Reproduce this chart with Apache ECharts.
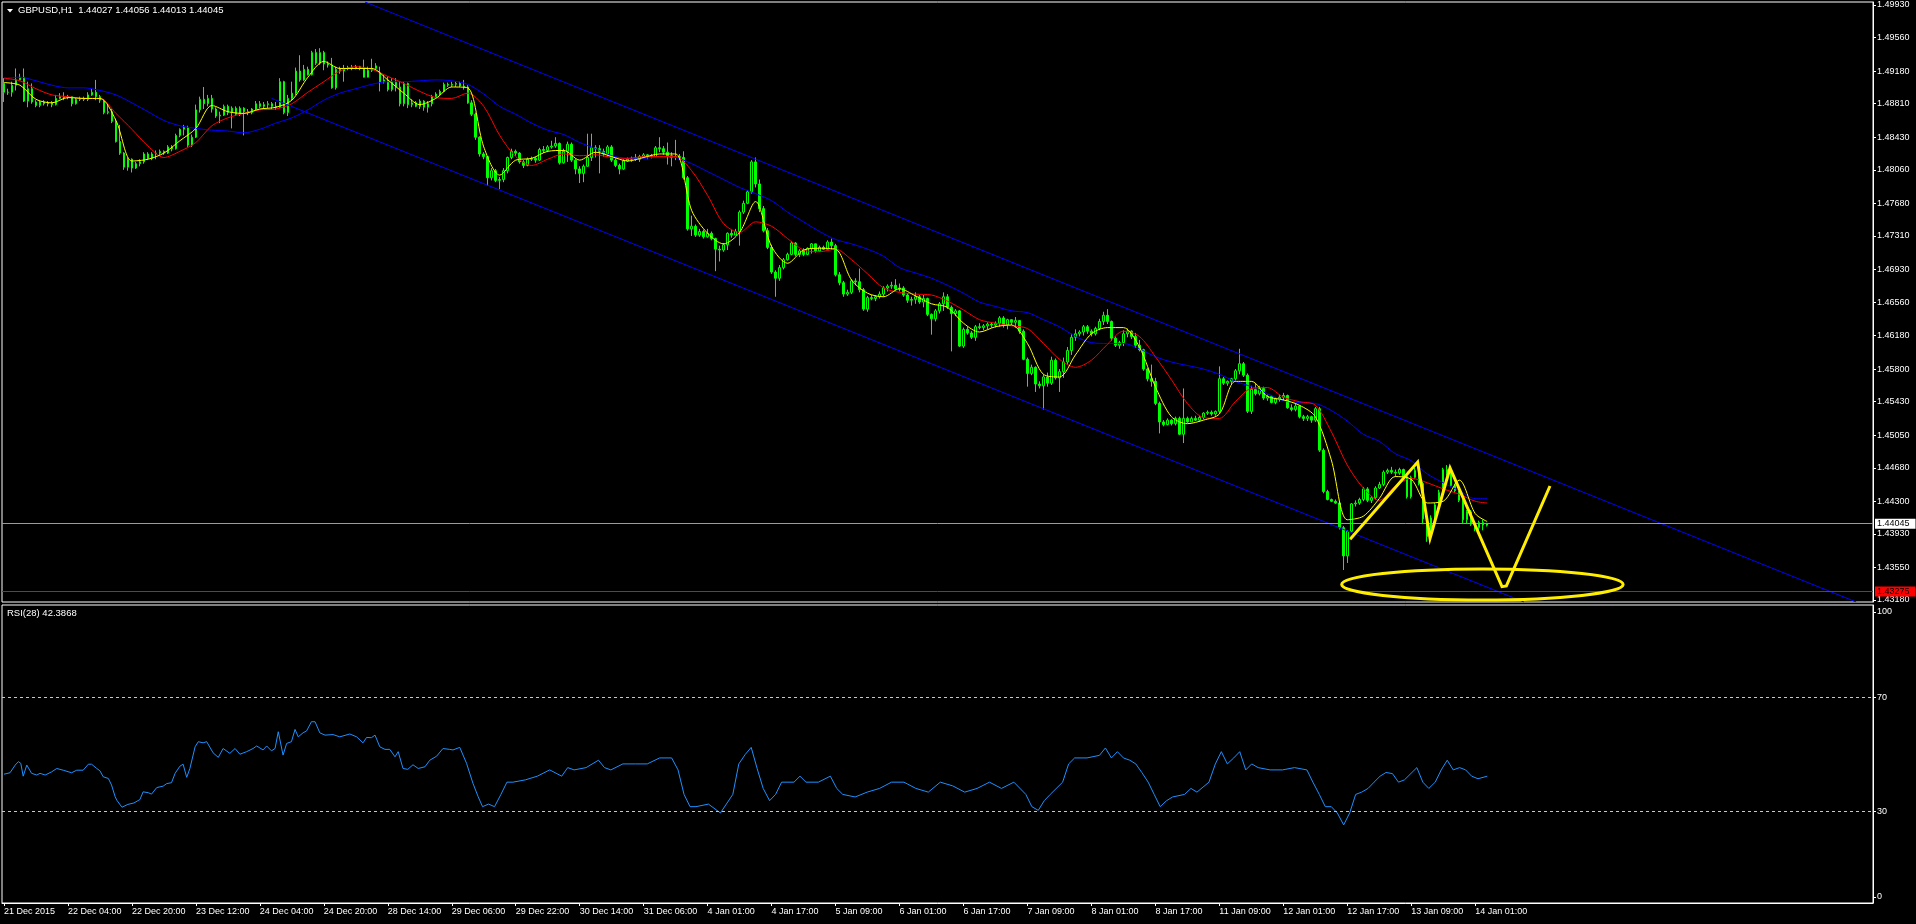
<!DOCTYPE html>
<html><head><meta charset="utf-8">
<script src="https://cdn.jsdelivr.net/npm/echarts@6/dist/echarts.min.js"></script>
<style>html,body{margin:0;padding:0;background:#000;overflow:hidden}#c{width:1916px;height:924px}</style>
</head><body><div id="c"></div>
<script>
// ---------- DATA ----------
const symbolName = 'GBPUSD,H1';
const rsiName = 'RSI(28)';

const opens = [
1.4904,1.4894,1.4894,1.4902,1.4908,1.4911,1.4884,1.4898,1.4883,1.4879,
1.4883,1.4881,1.4882,1.4880,1.4887,1.4889,1.4888,1.4889,1.4881,1.4886,
1.4887,1.4886,1.4891,1.4894,1.4889,1.4885,1.4871,1.4872,1.4861,1.4838,
1.4825,1.4809,1.4818,1.4808,1.4813,1.4815,1.4824,1.4819,1.4824,1.4825,
1.4827,1.4825,1.4832,1.4830,1.4845,1.4852,1.4854,1.4834,1.4843,1.4874,
1.4886,1.4881,1.4887,1.4875,1.4867,1.4868,1.4878,1.4871,1.4876,1.4869,
1.4876,1.4872,1.4871,1.4875,1.4881,1.4878,1.4880,1.4881,1.4878,1.4877,
1.4906,1.4871,1.4887,1.4893,1.4918,1.4908,1.4920,1.4914,1.4939,1.4927,
1.4939,1.4926,1.4925,1.4899,1.4920,1.4918,1.4921,1.4922,1.4921,1.4923,
1.4921,1.4911,1.4919,1.4921,1.4916,1.4906,1.4908,1.4897,1.4906,1.4900,
1.4881,1.4904,1.4880,1.4882,1.4878,1.4884,1.4877,1.4881,1.4889,1.4892,
1.4895,1.4903,1.4902,1.4903,1.4904,1.4901,1.4900,1.4882,1.4869,1.4843,
1.4824,1.4821,1.4797,1.4805,1.4794,1.4795,1.4805,1.4820,1.4827,1.4825,
1.4815,1.4811,1.4818,1.4819,1.4817,1.4829,1.4828,1.4832,1.4833,1.4836,
1.4814,1.4827,1.4835,1.4817,1.4807,1.4802,1.4810,1.4820,1.4831,1.4830,
1.4827,1.4824,1.4832,1.4817,1.4811,1.4807,1.4816,1.4818,1.4819,1.4818,
1.4821,1.4823,1.4822,1.4821,1.4831,1.4830,1.4826,1.4822,1.4820,1.4821,
1.4820,1.4797,1.4739,1.4742,1.4732,1.4736,1.4730,1.4734,1.4728,1.4716,
1.4715,1.4721,1.4734,1.4732,1.4736,1.4758,1.4768,1.4781,1.4815,1.4790,
1.4762,1.4737,1.4718,1.4690,1.4683,1.4695,1.4704,1.4710,1.4723,1.4710,
1.4714,1.4710,1.4717,1.4722,1.4714,1.4718,1.4716,1.4724,1.4720,1.4687,
1.4678,1.4665,1.4667,1.4680,1.4679,1.4670,1.4648,1.4661,1.4660,1.4662,
1.4665,1.4672,1.4674,1.4675,1.4671,1.4672,1.4664,1.4658,1.4659,1.4662,
1.4656,1.4660,1.4642,1.4637,1.4646,1.4654,1.4662,1.4650,1.4643,1.4646,
1.4606,1.4625,1.4621,1.4616,1.4628,1.4627,1.4629,1.4631,1.4630,1.4632,
1.4638,1.4630,1.4636,1.4633,1.4635,1.4623,1.4591,1.4575,1.4582,1.4563,
1.4561,1.4571,1.4564,1.4590,1.4570,1.4577,1.4588,1.4601,1.4616,1.4620,
1.4622,1.4628,1.4623,1.4620,1.4626,1.4634,1.4641,1.4634,1.4615,1.4607,
1.4610,1.4620,1.4623,1.4617,1.4607,1.4602,1.4580,1.4569,1.4566,1.4541,
1.4520,1.4517,1.4522,1.4518,1.4524,1.4506,1.4524,1.4520,1.4524,1.4522,
1.4525,1.4530,1.4531,1.4529,1.4532,1.4569,1.4564,1.4566,1.4569,1.4578,
1.4586,1.4573,1.4532,1.4557,1.4552,1.4558,1.4547,1.4549,1.4542,1.4546,
1.4548,1.4550,1.4536,1.4534,1.4538,1.4526,1.4524,1.4526,1.4522,1.4535,
1.4488,1.4441,1.4432,1.4430,1.4428,1.4400,1.4368,1.4396,1.4427,1.4428,
1.4432,1.4444,1.4431,1.4434,1.4445,1.4449,1.4463,1.4465,1.4463,1.4462,
1.4466,1.4458,1.4435,1.4457,1.4465,1.4450,1.4410,1.4390,1.4411,1.4426,
1.4440,1.4466,1.4461,1.4448,1.4442,1.4431,1.4409,1.4418,1.4404,1.4400,
1.4406,1.44027];

const highs = [
1.4910,1.4898,1.4906,1.4921,1.4915,1.4921,1.4906,1.4904,1.4885,1.4885,
1.4885,1.4884,1.4884,1.4891,1.4893,1.4894,1.4891,1.4889,1.4888,1.4889,
1.4889,1.4894,1.4898,1.4908,1.4891,1.4886,1.4881,1.4875,1.4864,1.4857,
1.4826,1.4820,1.4819,1.4815,1.4818,1.4826,1.4826,1.4826,1.4828,1.4829,
1.4828,1.4834,1.4834,1.4847,1.4853,1.4857,1.4856,1.4846,1.4880,1.4889,
1.4900,1.4891,1.4891,1.4877,1.4872,1.4880,1.4880,1.4878,1.4878,1.4878,
1.4877,1.4875,1.4876,1.4884,1.4884,1.4883,1.4884,1.4883,1.4883,1.4910,
1.4907,1.4891,1.4906,1.4922,1.4936,1.4925,1.4923,1.4941,1.4943,1.4944,
1.4941,1.4929,1.4933,1.4923,1.4923,1.4925,1.4924,1.4925,1.4925,1.4924,
1.4931,1.4923,1.4932,1.4927,1.4923,1.4914,1.4912,1.4910,1.4910,1.4906,
1.4906,1.4905,1.4886,1.4884,1.4886,1.4885,1.4884,1.4891,1.4894,1.4897,
1.4905,1.4905,1.4906,1.4906,1.4906,1.4908,1.4902,1.4885,1.4871,1.4844,
1.4826,1.4821,1.4808,1.4807,1.4798,1.4808,1.4821,1.4830,1.4829,1.4826,
1.4817,1.4820,1.4821,1.4821,1.4831,1.4833,1.4834,1.4839,1.4843,1.4837,
1.4830,1.4838,1.4837,1.4818,1.4810,1.4812,1.4847,1.4847,1.4834,1.4834,
1.4830,1.4834,1.4834,1.4819,1.4813,1.4818,1.4820,1.4821,1.4824,1.4823,
1.4825,1.4824,1.4824,1.4833,1.4843,1.4833,1.4837,1.4826,1.4840,1.4824,
1.4827,1.4799,1.4754,1.4744,1.4739,1.4738,1.4739,1.4736,1.4729,1.4720,
1.4723,1.4735,1.4738,1.4739,1.4760,1.4771,1.4783,1.4817,1.4820,1.4795,
1.4765,1.4740,1.4721,1.4692,1.4698,1.4706,1.4712,1.4725,1.4724,1.4716,
1.4717,1.4718,1.4723,1.4722,1.4720,1.4720,1.4726,1.4728,1.4722,1.4690,
1.4680,1.4670,1.4682,1.4683,1.4694,1.4672,1.4663,1.4664,1.4664,1.4668,
1.4674,1.4676,1.4679,1.4682,1.4677,1.4674,1.4666,1.4662,1.4667,1.4664,
1.4664,1.4661,1.4643,1.4648,1.4656,1.4667,1.4665,1.4652,1.4648,1.4647,
1.4627,1.4628,1.4623,1.4630,1.4632,1.4631,1.4633,1.4633,1.4634,1.4640,
1.4640,1.4637,1.4636,1.4639,1.4635,1.4625,1.4593,1.4585,1.4583,1.4566,
1.4574,1.4576,1.4594,1.4592,1.4580,1.4593,1.4605,1.4620,1.4625,1.4624,
1.4630,1.4630,1.4625,1.4628,1.4637,1.4645,1.4648,1.4635,1.4617,1.4612,
1.4624,1.4626,1.4624,1.4621,1.4613,1.4603,1.4581,1.4585,1.4570,1.4543,
1.4522,1.4524,1.4523,1.4526,1.4526,1.4558,1.4526,1.4526,1.4527,1.4527,
1.4531,1.4533,1.4533,1.4533,1.4583,1.4571,1.4567,1.4570,1.4580,1.4603,
1.4588,1.4575,1.4561,1.4564,1.4561,1.4560,1.4551,1.4550,1.4548,1.4551,
1.4553,1.4551,1.4540,1.4541,1.4539,1.4528,1.4528,1.4527,1.4537,1.4537,
1.4490,1.4443,1.4433,1.4432,1.4430,1.4402,1.4397,1.4428,1.4431,1.4434,
1.4446,1.4446,1.4436,1.4447,1.4452,1.4465,1.4467,1.4469,1.4466,1.4468,
1.4467,1.4460,1.4459,1.4468,1.4466,1.4452,1.4415,1.4414,1.4428,1.4443,
1.4468,1.4471,1.4463,1.4450,1.4444,1.4432,1.4420,1.4420,1.4406,1.4408,
1.4409,1.44056];

const lows = [
1.4883,1.4891,1.4889,1.4896,1.4908,1.4883,1.4877,1.4881,1.4877,1.4877,
1.4879,1.4878,1.4877,1.4879,1.4886,1.4885,1.4886,1.4878,1.4880,1.4884,
1.4884,1.4884,1.4890,1.4885,1.4882,1.4869,1.4869,1.4859,1.4837,1.4823,
1.4806,1.4805,1.4803,1.4807,1.4810,1.4813,1.4817,1.4817,1.4818,1.4823,
1.4823,1.4824,1.4827,1.4829,1.4843,1.4845,1.4832,1.4832,1.4842,1.4871,
1.4875,1.4878,1.4871,1.4865,1.4859,1.4867,1.4868,1.4853,1.4867,1.4867,
1.4845,1.4868,1.4869,1.4874,1.4876,1.4875,1.4876,1.4875,1.4874,1.4876,
1.4869,1.4867,1.4885,1.4891,1.4906,1.4907,1.4913,1.4913,1.4925,1.4925,
1.4919,1.4922,1.4898,1.4897,1.4915,1.4906,1.4919,1.4919,1.4920,1.4919,
1.4911,1.4911,1.4917,1.4920,1.4895,1.4904,1.4895,1.4895,1.4895,1.4878,
1.4878,1.4876,1.4877,1.4877,1.4875,1.4873,1.4871,1.4878,1.4888,1.4890,
1.4894,1.4900,1.4900,1.4900,1.4900,1.4897,1.4881,1.4867,1.4840,1.4821,
1.4818,1.4788,1.4794,1.4792,1.4784,1.4792,1.4802,1.4818,1.4822,1.4813,
1.4808,1.4810,1.4816,1.4814,1.4816,1.4825,1.4826,1.4830,1.4831,1.4812,
1.4813,1.4815,1.4815,1.4801,1.4791,1.4792,1.4810,1.4816,1.4820,1.4802,
1.4821,1.4821,1.4815,1.4809,1.4801,1.4806,1.4815,1.4815,1.4816,1.4815,
1.4819,1.4818,1.4819,1.4821,1.4826,1.4823,1.4812,1.4810,1.4817,1.4817,
1.4795,1.4737,1.4731,1.4730,1.4730,1.4728,1.4729,1.4726,1.4691,1.4702,
1.4713,1.4715,1.4729,1.4732,1.4720,1.4756,1.4767,1.4779,1.4786,1.4758,
1.4735,1.4716,1.4688,1.4662,1.4680,1.4693,1.4703,1.4709,1.4708,1.4707,
1.4708,1.4709,1.4711,1.4712,1.4713,1.4715,1.4716,1.4715,1.4685,1.4675,
1.4662,1.4663,1.4665,1.4675,1.4667,1.4646,1.4645,1.4658,1.4657,1.4660,
1.4662,1.4668,1.4671,1.4669,1.4668,1.4662,1.4655,1.4652,1.4654,1.4654,
1.4650,1.4640,1.4619,1.4634,1.4643,1.4646,1.4648,1.4600,1.4640,1.4605,
1.4604,1.4619,1.4614,1.4612,1.4625,1.4624,1.4625,1.4627,1.4627,1.4628,
1.4627,1.4625,1.4630,1.4627,1.4620,1.4590,1.4560,1.4573,1.4554,1.4558,
1.4534,1.4560,1.4562,1.4568,1.4554,1.4570,1.4585,1.4596,1.4612,1.4617,
1.4618,1.4620,1.4617,1.4618,1.4624,1.4630,1.4631,1.4612,1.4605,1.4603,
1.4606,1.4616,1.4614,1.4604,1.4600,1.4578,1.4566,1.4560,1.4539,1.4507,
1.4515,1.4516,1.4516,1.4516,1.4505,1.4496,1.4519,1.4520,1.4521,1.4520,
1.4523,1.4528,1.4527,1.4527,1.4530,1.4562,1.4561,1.4563,1.4567,1.4574,
1.4571,1.4530,1.4529,1.4550,1.4550,1.4545,1.4544,1.4541,1.4540,1.4543,
1.4544,1.4535,1.4532,1.4532,1.4524,1.4521,1.4521,1.4519,1.4520,1.4486,
1.4439,1.4431,1.4429,1.4427,1.4398,1.4352,1.4360,1.4395,1.4424,1.4426,
1.4430,1.4429,1.4428,1.4432,1.4444,1.4447,1.4461,1.4461,1.4458,1.4460,
1.4456,1.4433,1.4433,1.4455,1.4448,1.4404,1.4384,1.4388,1.4409,1.4424,
1.4438,1.4459,1.4446,1.4440,1.4429,1.4405,1.4405,1.4402,1.4396,1.4394,
1.4397,1.44013];

const closes = [
1.4894,1.4894,1.4902,1.4908,1.4911,1.4884,1.4898,1.4883,1.4879,1.4883,
1.4881,1.4882,1.4880,1.4887,1.4889,1.4888,1.4889,1.4881,1.4886,1.4887,
1.4886,1.4891,1.4894,1.4889,1.4885,1.4871,1.4872,1.4861,1.4838,1.4825,
1.4809,1.4818,1.4808,1.4813,1.4815,1.4824,1.4819,1.4824,1.4825,1.4827,
1.4825,1.4832,1.4830,1.4845,1.4852,1.4854,1.4834,1.4843,1.4874,1.4886,
1.4881,1.4887,1.4875,1.4867,1.4868,1.4878,1.4871,1.4876,1.4869,1.4876,
1.4872,1.4871,1.4875,1.4881,1.4878,1.4880,1.4881,1.4878,1.4877,1.4906,
1.4871,1.4887,1.4893,1.4918,1.4908,1.4920,1.4914,1.4939,1.4927,1.4939,
1.4926,1.4925,1.4899,1.4920,1.4918,1.4921,1.4922,1.4921,1.4923,1.4921,
1.4911,1.4919,1.4921,1.4924,1.4906,1.4908,1.4897,1.4906,1.4900,1.4881,
1.4904,1.4880,1.4882,1.4878,1.4884,1.4877,1.4881,1.4889,1.4892,1.4895,
1.4903,1.4902,1.4903,1.4904,1.4901,1.4900,1.4882,1.4869,1.4843,1.4824,
1.4821,1.4797,1.4805,1.4794,1.4795,1.4805,1.4820,1.4827,1.4825,1.4815,
1.4811,1.4818,1.4819,1.4817,1.4829,1.4828,1.4832,1.4833,1.4836,1.4814,
1.4827,1.4835,1.4817,1.4807,1.4802,1.4810,1.4820,1.4831,1.4830,1.4827,
1.4824,1.4832,1.4817,1.4811,1.4807,1.4816,1.4818,1.4819,1.4818,1.4821,
1.4823,1.4822,1.4821,1.4831,1.4830,1.4826,1.4822,1.4820,1.4821,1.4820,
1.4797,1.4739,1.4742,1.4732,1.4736,1.4730,1.4734,1.4728,1.4716,1.4715,
1.4721,1.4734,1.4732,1.4736,1.4758,1.4768,1.4781,1.4815,1.4790,1.4762,
1.4737,1.4718,1.4690,1.4683,1.4695,1.4704,1.4710,1.4723,1.4710,1.4714,
1.4710,1.4717,1.4722,1.4714,1.4718,1.4716,1.4724,1.4720,1.4687,1.4678,
1.4665,1.4667,1.4680,1.4679,1.4670,1.4648,1.4661,1.4660,1.4662,1.4665,
1.4672,1.4674,1.4675,1.4671,1.4672,1.4664,1.4658,1.4659,1.4662,1.4656,
1.4660,1.4642,1.4637,1.4646,1.4654,1.4662,1.4650,1.4643,1.4646,1.4606,
1.4625,1.4621,1.4616,1.4628,1.4627,1.4629,1.4631,1.4630,1.4632,1.4638,
1.4630,1.4636,1.4633,1.4635,1.4623,1.4591,1.4575,1.4582,1.4563,1.4561,
1.4571,1.4564,1.4590,1.4570,1.4577,1.4588,1.4601,1.4616,1.4620,1.4622,
1.4628,1.4623,1.4620,1.4626,1.4634,1.4641,1.4634,1.4615,1.4607,1.4610,
1.4620,1.4623,1.4617,1.4607,1.4602,1.4580,1.4569,1.4566,1.4541,1.4520,
1.4517,1.4522,1.4518,1.4524,1.4506,1.4524,1.4520,1.4524,1.4522,1.4525,
1.4530,1.4531,1.4529,1.4532,1.4569,1.4564,1.4566,1.4569,1.4578,1.4586,
1.4573,1.4532,1.4557,1.4552,1.4558,1.4547,1.4549,1.4542,1.4546,1.4548,
1.4550,1.4536,1.4534,1.4538,1.4526,1.4524,1.4526,1.4522,1.4535,1.4488,
1.4441,1.4432,1.4430,1.4428,1.4400,1.4368,1.4396,1.4427,1.4428,1.4432,
1.4444,1.4431,1.4434,1.4445,1.4449,1.4463,1.4465,1.4463,1.4462,1.4466,
1.4458,1.4435,1.4457,1.4465,1.4450,1.4410,1.4390,1.4411,1.4426,1.4440,
1.4466,1.4461,1.4448,1.4442,1.4431,1.4409,1.4418,1.4404,1.4400,1.4406,
1.4403,1.44045];

// moving averages, read at these bar positions
const maBars = [0,4,8,12,16,20,24,28,32,36,40,44,48,52,56,60,64,68,72,76,80,84,88,92,
96,100,104,108,112,116,120,124,128,132,136,140,144,148,152,156,160,164,168,172,176,180,184,
188,192,196,200,204,208,212,216,220,224,228,232,236,240,244,248,252,256,260,264,268,272,276,
280,284,288,292,296,300,304,308,312,316,320,324,328,332,336,340,344,348,352,356,360,364,368,371];
const maFast = [1.4905,1.4902,1.4886,1.4882,1.4888,1.4887,1.4887,1.4862,1.4816,1.4818,1.4825,1.4839,1.4853,1.4879,1.4872,1.4870,1.4875,1.4877,1.4885,1.4911,1.4929,1.4921,1.4921,1.4921,
1.4908,1.4893,1.4880,1.4887,1.4900,1.4899,1.4832,1.4800,1.4817,1.4819,1.4827,1.4828,1.4817,1.4826,1.4821,1.4816,1.4820,1.4824,1.4824,1.4760,1.4734,1.4722,1.4735,
1.4770,1.4719,1.4700,1.4715,1.4717,1.4716,1.4681,1.4666,1.4662,1.4671,1.4663,1.4654,1.4650,1.4632,1.4622,1.4628,1.4630,1.4609,1.4574,1.4571,1.4596,1.4620,1.4627,
1.4627,1.4605,1.4560,1.4526,1.4518,1.4522,1.4529,1.4566,1.4566,1.4549,1.4545,1.4539,1.4526,1.4477,1.4409,1.4413,1.4433,1.4458,1.4455,1.4428,1.4430,1.4454,1.4416,1.4407];
const maMid = [1.4910,1.4907,1.4898,1.4891,1.4889,1.4887,1.4887,1.4870,1.4852,1.4833,1.4820,1.4827,1.4837,1.4856,1.4865,1.4870,1.4874,1.4875,1.4881,1.4894,1.4906,1.4918,1.4923,1.4920,
1.4912,1.4904,1.4895,1.4888,1.4887,1.4893,1.4878,1.4845,1.4821,1.4811,1.4818,1.4824,1.4822,1.4823,1.4820,1.4819,1.4821,1.4821,1.4821,1.4805,1.4777,1.4745,1.4735,
1.4747,1.4742,1.4728,1.4715,1.4713,1.4716,1.4704,1.4688,1.4672,1.4667,1.4665,1.4664,1.4657,1.4647,1.4636,1.4632,1.4629,1.4626,1.4609,1.4591,1.4582,1.4590,1.4608,
1.4623,1.4617,1.4594,1.4568,1.4541,1.4525,1.4524,1.4543,1.4558,1.4559,1.4548,1.4543,1.4539,1.4509,1.4471,1.4445,1.4431,1.4447,1.4456,1.4451,1.4444,1.4438,1.4430,1.4428];
const maSlow = [1.4910,1.4911,1.4907,1.4902,1.4899,1.4899,1.4896,1.4891,1.4882,1.4872,1.4862,1.4856,1.4853,1.4851,1.4850,1.4848,1.4852,1.4859,1.4865,1.4874,1.4885,1.4893,1.4898,1.4903,
1.4906,1.4906,1.4907,1.4908,1.4907,1.4903,1.4892,1.4878,1.4869,1.4859,1.4851,1.4846,1.4837,1.4830,1.4822,1.4819,1.4819,1.4821,1.4820,1.4813,1.4804,1.4795,1.4786,
1.4779,1.4771,1.4758,1.4747,1.4736,1.4727,1.4722,1.4716,1.4708,1.4695,1.4689,1.4683,1.4675,1.4666,1.4656,1.4651,1.4646,1.4644,1.4636,1.4628,1.4617,1.4610,1.4609,
1.4609,1.4603,1.4594,1.4588,1.4584,1.4580,1.4574,1.4566,1.4560,1.4552,1.4544,1.4542,1.4541,1.4533,1.4521,1.4506,1.4498,1.4484,1.4476,1.4461,1.4451,1.4442,1.4433,1.4433];

// RSI(28), read at these bar positions
const rsiBars = [0,1.5,2.8,3.6,4.2,4.8,5.7,6.9,8.2,9,10.3,11.9,13.2,14.8,16.9,18.2,19.8,21.1,21.9,23.2,24,24.8,26.1,26.9,27.8,28.2,29.5,31,32.5,34,
34.8,36.1,36.9,38.2,39.8,40.7,41.9,42.8,44,44.8,45.7,46.5,47.8,48.6,49.8,50.7,52.3,53.6,54.8,56.5,57.8,59,60.7,62.3,63.2,64.8,65.7,66.9,67.8,68.6,
69.8,70.7,71.9,72.8,73.6,74.8,75.7,76.9,77.8,79,80.3,82.3,84,86.5,88.2,89.8,90.7,91.9,92.8,94,95.3,96.5,97.8,98.6,99.8,101,102.3,103.6,105.3,106.5,
108.2,109.8,111.5,112.3,114,115.7,117.3,118.6,119.7,121.2,122.7,124.3,125.8,127.3,130.4,133.4,136.5,139.5,141,142.6,145.6,148.7,150.2,151.8,154.8,157.9,160.9,164,167,168.6,
170.1,171.6,173.1,176.2,179.2,182.3,183.8,185.4,186.9,188.4,189.9,191.5,193,194.5,197.6,199.1,200.6,203.7,206.7,208.3,209.8,212.9,215.9,219,222,225.1,228.1,231.2,234.2,237.3,
240.3,243.4,246.5,249.5,252.6,255.6,257.1,258.7,260.2,261.7,264.8,266.3,267.8,270.9,274,275.5,277,278.5,280,281.6,283.1,284.6,286.2,287.7,289.2,290.8,292.3,295.3,296.9,298.4,
301.4,303,304.5,306,307.6,309.1,310.6,312.1,313.7,316.7,319.8,322.8,325.9,327.4,329,330.5,332,333.5,335.1,336.6,338.1,339.6,341.2,342.7,344.2,345.7,347.3,348.8,350.3,353.4,
354.9,356.4,358,359.5,361,362.5,364.1,365.6,367.1,368.7,371];
const rsiValues = [43.1,43.6,46.3,47.5,46.9,42.4,46.3,43.4,42.8,43.4,42.8,43.9,45.1,44.5,43.6,44.5,44.5,46.6,46.6,45.1,44.3,42.2,41.6,39.3,35.2,34.0,31.5,32.5,33.0,34.2,
36.9,36.6,36.1,38.4,38.9,39.8,40.1,43.4,45.9,46.6,42.0,45.1,52.7,54.5,54.1,54.5,50.6,49.0,52.1,50.4,52.1,50.1,51.0,52.1,53.0,51.6,53.0,51.3,52.1,58.0,
49.8,53.9,54.5,58.8,56.2,57.6,58.3,61.5,61.5,57.6,56.8,57.0,56.2,57.2,56.2,54.1,56.0,55.9,56.8,52.7,51.8,51.8,49.2,51.0,45.1,44.8,46.4,45.1,45.7,48.0,
49.4,52.1,51.8,51.6,52.5,46.9,39.9,35.2,31.7,32.6,31.7,36.0,40.3,40.3,41.1,42.4,44.6,42.4,45.4,44.6,45.4,48.0,45.4,44.6,46.7,46.7,46.7,48.8,48.8,44.6,
36.0,31.7,31.7,32.6,29.5,36.0,46.7,50.0,52.5,45.0,38.1,33.8,36.0,40.3,40.3,42.4,40.3,40.3,42.4,38.1,36.0,35.1,36.8,38.1,40.3,40.3,38.1,36.8,40.3,39.0,
36.8,38.1,40.3,38.1,40.3,36.0,31.7,30.4,33.8,36.0,40.3,46.7,48.8,48.8,49.7,52.3,48.8,51.0,48.8,48.0,46.7,43.7,40.3,36.0,31.7,33.8,35.1,36.0,38.1,36.8,
40.3,46.7,51.0,46.7,48.8,51.0,44.6,46.7,45.4,44.6,44.6,45.4,44.6,40.3,36.0,31.7,31.7,29.5,25.3,29.5,36.0,36.8,38.1,40.3,42.4,43.7,43.3,40.3,41.1,45.4,
40.3,38.1,40.3,44.6,48.0,44.6,45.4,44.6,42.4,41.5,42.3868];

// axis ticks
const priceTicks = [1.43180,1.43550,1.43930,1.44300,1.44680,1.45050,1.45430,1.45800,1.46180,1.46560,
1.46930,1.47310,1.47680,1.48060,1.48430,1.48810,1.49180,1.49560,1.49930];
const rsiTicks = [0,30,70,100];
const rsiLevels = [30,70];
const timeTickBars = [0,16,32,48,64,80,96,112,128,144,160,176,192,208,224,240,256,272,288,304,320,336,352,368];
const timeTickLabels = ['21 Dec 2015','22 Dec 04:00','22 Dec 20:00','23 Dec 12:00','24 Dec 04:00','24 Dec 20:00',
'28 Dec 14:00','29 Dec 06:00','29 Dec 22:00','30 Dec 14:00','31 Dec 06:00','4 Jan 01:00','4 Jan 17:00',
'5 Jan 09:00','6 Jan 01:00','6 Jan 17:00','7 Jan 09:00','8 Jan 01:00','8 Jan 17:00','11 Jan 09:00',
'12 Jan 01:00','12 Jan 17:00','13 Jan 09:00','14 Jan 01:00'];

// drawn objects (bar position, price)
const channelUpperBars = [90.3, 463.3];
const channelUpperPrices = [1.49964, 1.43157];
const channelLowerBars = [66.9, 380.2];
const channelLowerPrices = [1.48871, 1.43157];
const bidPrice = 1.44045;
const levelPrice = 1.43275;
const zigzagBars = [336.7, 353.6, 356.7, 361.7, 374.7, 375.8, 386.7];
const zigzagPrices = [1.43869, 1.44745, 1.43880, 1.44677, 1.43331, 1.43339, 1.44473];
const ellipseCenter = [369.8, 1.43356];
const ellipseRadius = [35.2, 0.00176];

// ---------- CHART ----------
const SLOTS = 468;
const FONT = "'Liberation Sans', Arial, sans-serif";
const cats = Array.from({length: SLOTS}, (_, i) => String(i));
const pairs = (xs, ys) => xs.map((x, i) => [x, ys[i]]);
const candleData = opens.map((o, i) => [o, closes[i], lows[i], highs[i]]);
const last = opens.length - 1;
const headerText = symbolName + '  ' + [opens[last], highs[last], lows[last], closes[last]].map(v => v.toFixed(5)).join(' ');
const rsiText = rsiName + ' ' + rsiValues[rsiValues.length - 1].toFixed(4);

const chart = echarts.init(document.getElementById('c'), null, {renderer: 'canvas'});
const axisText = {color: '#ffffff', fontFamily: FONT, fontSize: 9};
const lineBase = {type: 'line', showSymbol: false, symbol: 'none', silent: true, animation: false};
const tagLabel = (v, bg) => ({show: true, position: 'end', distance: 2, formatter: v.toFixed(5), color: '#000000',
  backgroundColor: bg, padding: [1, 6, 0, 2], fontFamily: FONT, fontSize: 9});

chart.setOption({
  backgroundColor: '#000000',
  animation: false,
  grid: [
    {left: 2, top: 2, width: 1871, height: 600, show: true, borderColor: '#ffffff', borderWidth: 1, backgroundColor: 'transparent'},
    {left: 2, top: 605, width: 1871, height: 298, show: true, borderColor: '#ffffff', borderWidth: 1, backgroundColor: 'transparent'}
  ],
  xAxis: [
    {type: 'category', gridIndex: 0, data: cats, show: false, boundaryGap: true, axisLine: {onZero: false}},
    {type: 'value', gridIndex: 0, min: -0.5, max: SLOTS - 0.5, show: false, axisLine: {onZero: false}},
    {type: 'value', gridIndex: 1, min: -0.5, max: SLOTS - 0.5, position: 'bottom',
      axisLine: {show: true, onZero: false, lineStyle: {color: '#ffffff', width: 1}},
      splitLine: {show: false},
      axisTick: {show: true, customValues: timeTickBars, length: 3, lineStyle: {color: '#ffffff'}},
      axisLabel: Object.assign({customValues: timeTickBars, align: 'left', margin: 4,
        formatter: v => timeTickLabels[timeTickBars.indexOf(v)] || ''}, axisText)}
  ],
  yAxis: [
    {type: 'value', gridIndex: 0, position: 'right', min: 1.43157, max: 1.49964,
      axisLine: {show: true, onZero: false, lineStyle: {color: '#ffffff'}},
      splitLine: {show: false},
      axisTick: {show: true, customValues: priceTicks, length: 3, lineStyle: {color: '#ffffff'}},
      axisLabel: Object.assign({customValues: priceTicks, margin: 4, formatter: v => v.toFixed(5)}, axisText)},
    {type: 'value', gridIndex: 1, position: 'right', min: -2.1, max: 102.46,
      axisLine: {show: true, onZero: false, lineStyle: {color: '#ffffff'}},
      splitLine: {show: false},
      axisTick: {show: true, customValues: rsiTicks, length: 3, lineStyle: {color: '#ffffff'}},
      axisLabel: Object.assign({customValues: rsiTicks, margin: 4, formatter: v => String(v)}, axisText)}
  ],
  series: [
    {type: 'candlestick', xAxisIndex: 0, yAxisIndex: 0, data: candleData, barWidth: 2, silent: true, z: 2,
      itemStyle: {color: '#000000', color0: '#00ff00', borderColor: '#00ff00', borderColor0: '#00ff00', borderWidth: 1}},
    Object.assign({}, lineBase, {xAxisIndex: 1, yAxisIndex: 0, data: pairs(maBars, maSlow), smooth: 0.3, z: 3,
      lineStyle: {color: '#0000ff', width: 1}}),
    Object.assign({}, lineBase, {xAxisIndex: 1, yAxisIndex: 0, data: pairs(maBars, maMid), smooth: 0.3, z: 3,
      lineStyle: {color: '#ff0000', width: 1}}),
    Object.assign({}, lineBase, {xAxisIndex: 1, yAxisIndex: 0, data: pairs(maBars, maFast), smooth: 0.3, z: 4,
      lineStyle: {color: '#ffff00', width: 1}}),
    Object.assign({}, lineBase, {xAxisIndex: 1, yAxisIndex: 0, data: pairs(channelUpperBars, channelUpperPrices), z: 4,
      lineStyle: {color: '#0000ff', width: 1},
      markLine: {silent: true, symbol: ['none', 'none'], animation: false, precision: 5,
        data: [
          {yAxis: bidPrice, lineStyle: {color: '#9a9a9a', width: 1, type: 'solid'}, label: tagLabel(bidPrice, '#ffffff')},
          {yAxis: levelPrice, lineStyle: {color: '#ff0000', width: 1, type: 'solid'}, label: tagLabel(levelPrice, '#ff0000')}
        ]}}),
    Object.assign({}, lineBase, {xAxisIndex: 1, yAxisIndex: 0, data: pairs(channelLowerBars, channelLowerPrices), z: 4,
      lineStyle: {color: '#0000ff', width: 1}}),
    Object.assign({}, lineBase, {xAxisIndex: 1, yAxisIndex: 0, data: pairs(zigzagBars, zigzagPrices), z: 6,
      lineStyle: {color: '#ffee00', width: 3, join: 'miter'}}),
    {type: 'custom', xAxisIndex: 1, yAxisIndex: 0, silent: true, z: 6,
      data: [[ellipseCenter[0], ellipseCenter[1], ellipseRadius[0], ellipseRadius[1]]],
      renderItem: (params, api) => {
        const c = api.coord([api.value(0), api.value(1)]);
        const e = api.coord([api.value(0) + api.value(2), api.value(1) + api.value(3)]);
        return {type: 'ellipse', shape: {cx: c[0], cy: c[1], rx: Math.abs(e[0] - c[0]), ry: Math.abs(e[1] - c[1])},
          style: {fill: 'none', stroke: '#ffee00', lineWidth: 3}};
      }},
    Object.assign({}, lineBase, {xAxisIndex: 2, yAxisIndex: 1, data: pairs(rsiBars, rsiValues), z: 3,
      lineStyle: {color: '#1e90ff', width: 1},
      markLine: {silent: true, symbol: ['none', 'none'], animation: false, precision: 2, label: {show: false},
        lineStyle: {color: '#c8c8c8', width: 1, type: [3, 3]},
        data: rsiLevels.map(v => ({yAxis: v}))}})
  ],
  graphic: [
    {type: 'polygon', shape: {points: [[7, 9], [13, 9], [10, 12.5]]}, style: {fill: '#ffffff'}, silent: true},
    {type: 'text', left: 18, top: 5, style: {text: headerText, fill: '#ffffff', font: '9.5px ' + FONT}, silent: true},
    {type: 'text', left: 7, top: 608, style: {text: rsiText, fill: '#ffffff', font: '9.5px ' + FONT}, silent: true}
  ]
});
</script>
</body></html>
